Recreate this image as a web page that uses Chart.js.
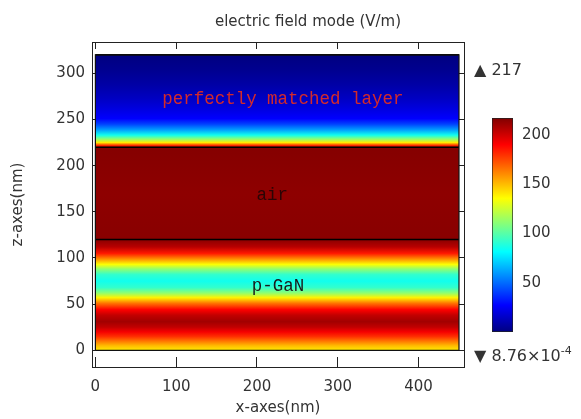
<!DOCTYPE html>
<html>
<head>
<meta charset="utf-8">
<script src="https://cdn.jsdelivr.net/npm/chart.js@4.4.1/dist/chart.umd.min.js"></script>
<style>
  body { margin: 0; background: #fff; font-family: 'DejaVu Sans', sans-serif; color: #333; }
  #wrap { position: relative; width: 581px; height: 419px; overflow: hidden; }
  canvas { position: absolute; }
  .lbl { position: absolute; white-space: nowrap; font-size: 15px; line-height: 18px; }
  .lbl sup { font-size: 11px; vertical-align: 7px; line-height: 0; }
</style>
</head>
<body>
<div id="wrap">
  <canvas id="champ" width="581" height="419" style="left:0;top:0"></canvas>
  <canvas id="barre" width="121" height="250" style="left:460px;top:100px"></canvas>
  <div class="lbl" style="left:158px;top:12px;width:300px;text-align:center">electric field mode (V/m)</div>
  <div class="lbl" style="left:474px;top:61px;font-size:16px">▲ 217</div>
  <div class="lbl" style="left:474px;top:347px;font-size:16px">▼ 8.76×10<sup>-4</sup></div>
</div>
<script>
// couches du modèle (nm)
const couches = ['p-GaN', 'air', 'perfectly matched layer'];
const bas = [0, 120, 220];
const haut = [120, 220, 320];
const largeur = [0, 450];

const zGaN = [0, 5, 10, 15, 20, 25, 31, 38, 44, 51, 57, 62, 68, 75, 82, 88, 93, 99, 105, 112, 120];
const eGaN = [140, 150, 165, 180, 192, 203, 210, 203, 190, 165, 138, 112, 92, 85, 92, 112, 135, 160, 185, 205, 215];
const zAir = [120, 170, 220];
const eAir = [215, 214, 216];
const zPml = [220, 222, 225, 229, 233, 239, 245, 251, 262, 273, 288, 305, 320];
const ePml = [200, 180, 140, 110, 85, 60, 41, 27, 20, 14, 8, 3, 0.001];

const eMax = 217;
const xTicks = [0, 100, 200, 300, 400];
const zTicks = [0, 50, 100, 150, 200, 250, 300];
const barreTicks = [50, 100, 150, 200];

// textes posés sur les couches
const etiquettes = ['perfectly matched layer', 'air', 'p-GaN'];
const etiquettesXZ = [[232, 272], [219, 168], [226, 70]];
const etiquettesCouleur = ['#d42a2a', '#2a0505', '#1a1a1a'];

// palette "jet"
const jetStops = [
  [0, [0, 0, 128]], [0.125, [0, 0, 255]], [0.375, [0, 255, 255]],
  [0.625, [255, 255, 0]], [0.875, [255, 0, 0]], [1, [128, 0, 0]]
];
function jet(t) {
  t = Math.max(0, Math.min(1, t));
  for (let i = 1; i < jetStops.length; i++) {
    const [t1, c1] = jetStops[i];
    if (t <= t1) {
      const [t0, c0] = jetStops[i - 1];
      const f = (t - t0) / (t1 - t0);
      const c = c0.map((v, k) => Math.round(v + (c1[k] - v) * f));
      return `rgb(${c[0]},${c[1]},${c[2]})`;
    }
  }
  return 'rgb(128,0,0)';
}

function degrade(i) {
  const zs = [zGaN, zAir, zPml][i];
  const es = [eGaN, eAir, ePml][i];
  return (ctx) => {
    const chart = ctx.chart;
    if (!chart.chartArea) return 'rgba(0,0,0,0)';
    const y = chart.scales.y;
    const g = chart.ctx.createLinearGradient(0, y.getPixelForValue(bas[i]), 0, y.getPixelForValue(haut[i]));
    zs.forEach((z, k) => g.addColorStop((z - bas[i]) / (haut[i] - bas[i]), jet(es[k] / eMax)));
    return g;
  };
}

const jeux = couches.map((nom, i) => ({
  label: nom,
  data: largeur.map(x => ({ x, y: haut[i] })),
  fill: { value: bas[i] },
  backgroundColor: degrade(i),
  borderColor: '#000',
  borderWidth: 1.5,
  pointRadius: 0,
  order: i
}));
jeux.push({
  label: 'contour',
  data: [
    { x: largeur[0], y: bas[0] }, { x: largeur[1], y: bas[0] },
    { x: largeur[1], y: haut[2] }, { x: largeur[0], y: haut[2] }, { x: largeur[0], y: bas[0] }
  ],
  fill: false,
  borderColor: '#111',
  borderWidth: 1.2,
  pointRadius: 0,
  order: -1
});

const etiquettesPlugin = {
  id: 'etiquettes',
  afterDatasetsDraw(chart) {
    const { ctx, scales } = chart;
    etiquettes.forEach((t, i) => {
      const px = scales.x.getPixelForValue(etiquettesXZ[i][0]);
      const py = scales.y.getPixelForValue(etiquettesXZ[i][1]);
      ctx.save();
      ctx.font = '19px "Liberation Mono"';
      ctx.fillStyle = etiquettesCouleur[i];
      ctx.textAlign = 'center';
      ctx.textBaseline = 'middle';
      ctx.translate(px, py);
      ctx.scale(0.92, 1);
      ctx.fillText(t, 0, 0);
      ctx.restore();
    });
  }
};

Chart.defaults.font.family = 'DejaVu Sans';
Chart.defaults.color = '#333';
const police = { size: 15 };
const cadre = { display: true, color: '#222', width: 1 };

new Chart(document.getElementById('champ'), {
  type: 'line',
  data: { datasets: jeux },
  options: {
    responsive: false,
    animation: false,
    events: [],
    layout: { padding: 0 },
    plugins: { legend: { display: false }, tooltip: { enabled: false } },
    scales: {
      x: {
        type: 'linear', position: 'bottom', min: -4.2, max: 456.2,
        afterBuildTicks: s => { s.ticks = xTicks.map(v => ({ value: v })); },
        afterFit: s => { s.height = 52; },
        grid: { drawOnChartArea: false, tickLength: -10, color: '#222' },
        border: cadre,
        ticks: { font: police, padding: 21, maxRotation: 0 },
        title: { display: true, text: 'x-axes(nm)', font: police, padding: { top: 0, bottom: 2 } }
      },
      y: {
        type: 'linear', position: 'left', min: -18.1, max: 333.9,
        afterBuildTicks: s => { s.ticks = zTicks.map(v => ({ value: v })); },
        afterFit: s => { s.width = 92; },
        grid: { drawOnChartArea: false, tickLength: -6, color: '#222' },
        border: cadre,
        ticks: { font: police, padding: 13 },
        title: { display: true, text: 'z-axes(nm)', font: police, padding: { top: 9, bottom: 0 } }
      },
      x2: {
        type: 'linear', position: 'top', min: -4.2, max: 456.2,
        afterBuildTicks: s => { s.ticks = xTicks.map(v => ({ value: v })); },
        afterFit: s => { s.height = 42; },
        grid: { drawOnChartArea: false, tickLength: -7, color: '#222' },
        border: cadre,
        ticks: { display: false }
      },
      y2: {
        type: 'linear', position: 'right', min: -18.1, max: 333.9,
        afterBuildTicks: s => { s.ticks = zTicks.map(v => ({ value: v })); },
        afterFit: s => { s.width = 117; },
        grid: { drawOnChartArea: false, tickLength: -5, color: '#222' },
        border: cadre,
        ticks: { display: false }
      }
    }
  },
  plugins: [etiquettesPlugin]
});

// barre de couleurs
function degradeBarre(ctx) {
  const chart = ctx.chart;
  if (!chart.chartArea) return 'rgba(0,0,0,0)';
  const y = chart.scales.y;
  const g = chart.ctx.createLinearGradient(0, y.getPixelForValue(0), 0, y.getPixelForValue(eMax));
  jetStops.forEach(([t, c]) => g.addColorStop(t, `rgb(${c[0]},${c[1]},${c[2]})`));
  return g;
}

new Chart(document.getElementById('barre'), {
  type: 'bar',
  data: {
    labels: ['|E|'],
    datasets: [{
      data: [[0, eMax]],
      backgroundColor: degradeBarre,
      borderColor: '#222',
      borderWidth: 1,
      borderSkipped: false,
      barPercentage: 1,
      categoryPercentage: 1
    }]
  },
  options: {
    responsive: false,
    animation: false,
    events: [],
    layout: { padding: { left: 32, top: 16.5, bottom: 16, right: 0 } },
    plugins: { legend: { display: false }, tooltip: { enabled: false } },
    scales: {
      x: { display: false },
      y: {
        position: 'right', min: 0, max: eMax, z: 1,
        afterBuildTicks: s => { s.ticks = barreTicks.map(v => ({ value: v })); },
        afterFit: s => { s.width = 68; },
        grid: { drawTicks: false, color: '#222' },
        border: { display: false, dash: [3, 14.4] },
        ticks: { font: police, padding: 9 }
      }
    }
  }
});
</script>
</body>
</html>
